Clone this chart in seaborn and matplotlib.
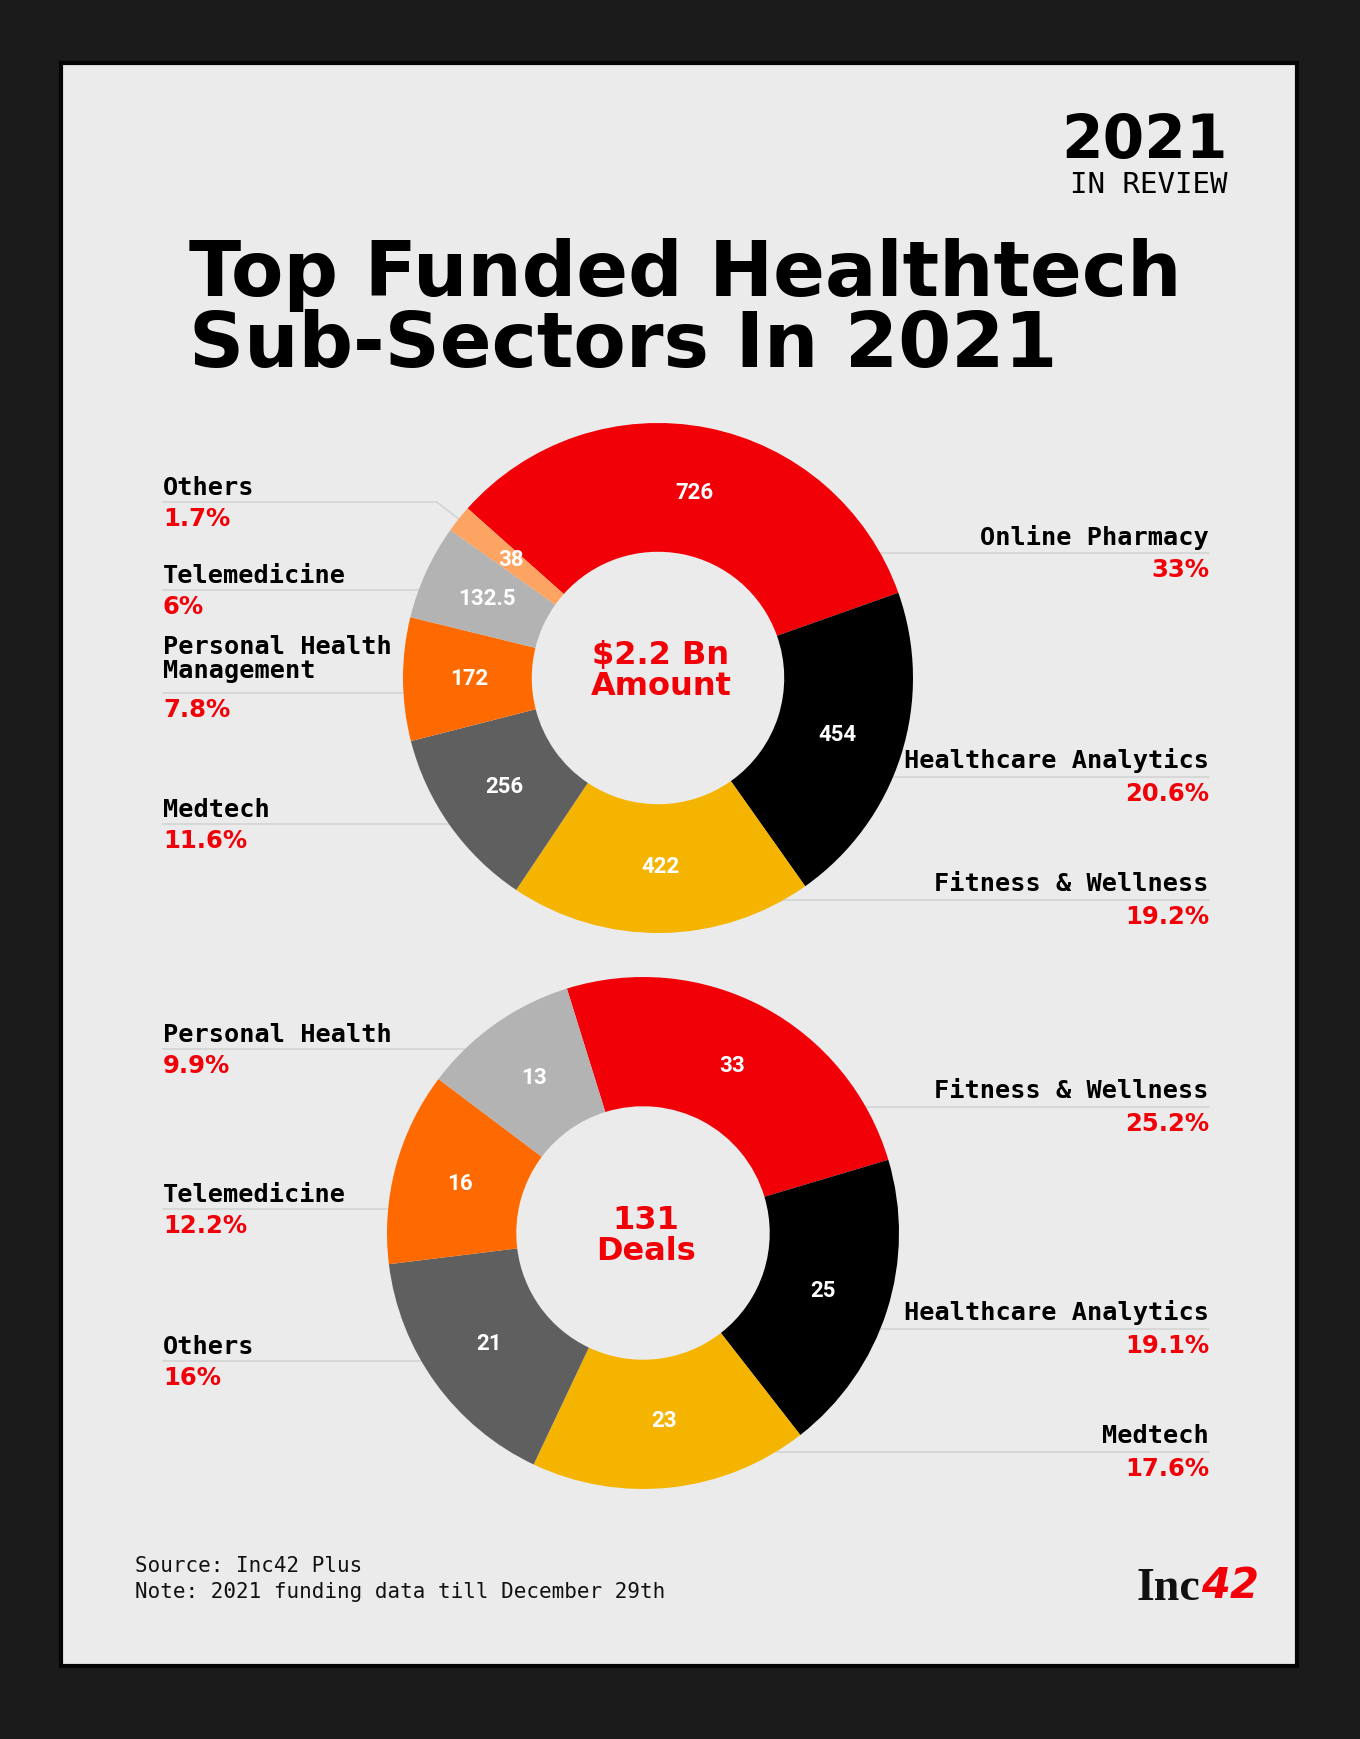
import numpy as np
import pandas as pd
import matplotlib
matplotlib.use("Agg")
import matplotlib.pyplot as plt
import seaborn as sns
from matplotlib.patches import Rectangle

# ---------------- data ----------------
amount_categories = ["Online Pharmacy", "Healthcare Analytics", "Fitness & Wellness",
                     "Medtech", "Personal Health\nManagement", "Telemedicine", "Others"]
amount_values = [726, 454, 422, 256, 172, 132.5, 38]
amount_center = ["$2.2 Bn", "Amount"]

deal_categories = ["Fitness & Wellness", "Healthcare Analytics", "Medtech",
                   "Others", "Telemedicine", "Personal Health"]
deal_values = [33, 25, 23, 21, 16, 13]
deal_center = ["131", "Deals"]

title_lines = ["Top Funded Healthtech", "Sub-Sectors In 2021"]
badge_year = "2021"
badge_text = "IN REVIEW"
footer_lines = ["Source: Inc42 Plus", "Note: 2021 funding data till December 29th"]

# ---------------- style ----------------
sns.set_theme(style="white")
palette = sns.color_palette(["#f20007", "#000000", "#f4b400", "#5f5f5f",
                             "#ff6a00", "#b3b3b3", "#fda462"])
RED = "#f20007"
CARD = "#ebebeb"
LINE = "#d3d3d3"
MONO = "DejaVu Sans Mono"
WIDE = "DejaVu Sans"

W, H = 1360, 1739
fig = plt.figure(figsize=(W / 100, H / 100), dpi=100)
fig.patch.set_facecolor("#1b1b1b")

bg = fig.add_axes([0, 0, 1, 1], zorder=0)
bg.set_xlim(0, W)
bg.set_ylim(H, 0)
bg.axis("off")
bg.add_patch(Rectangle((61, 63), 1236, 1603, facecolor=CARD, edgecolor="#050505", lw=3))

# header
bg.text(1228, 158, badge_year, ha="right", va="baseline", fontsize=43,
        fontweight="bold", family=WIDE, color="black")
bg.text(1228, 193, badge_text, ha="right", va="baseline", fontsize=21,
        family=MONO, color="black")
bg.text(189, 296, title_lines[0], ha="left", va="baseline", fontsize=55,
        fontweight="bold", family=WIDE, color="black")
bg.text(189, 367, title_lines[1], ha="left", va="baseline", fontsize=55,
        fontweight="bold", family=WIDE, color="black")

# footer
bg.text(135, 1572, footer_lines[0], ha="left", va="baseline", fontsize=15,
        family=MONO, color="#111111")
bg.text(135, 1598, footer_lines[1], ha="left", va="baseline", fontsize=15,
        family=MONO, color="#111111")
bg.text(1200, 1600, "Inc", ha="right", va="baseline", fontsize=33,
        fontweight="bold", family="Liberation Serif", color="#111111")
bg.text(1201, 1598, "42", ha="left", va="baseline", fontsize=30,
        fontweight="bold", style="italic", family=WIDE, color=RED)


def fmt_pct(v, total):
    s = f"{100 * v / total:.1f}".rstrip("0").rstrip(".")
    return s + "%"


def donut(cx, cy, R, values, cats, startangle, center_txt, center_ys, layout):
    ax = fig.add_axes([(cx - R) / W, 1 - (cy + R) / H, 2 * R / W, 2 * R / H], zorder=1)
    wedges, _ = ax.pie(values, colors=palette[:len(values)], startangle=startangle,
                       counterclock=False, radius=1,
                       wedgeprops=dict(width=0.505, linewidth=0))
    ax.set_xlim(-1, 1)
    ax.set_ylim(-1, 1)
    ax.axis("off")
    total = sum(values)
    for w, v in zip(wedges, values):
        th = np.deg2rad((w.theta1 + w.theta2) / 2)
        ax.text(0.74 * np.cos(th), 0.74 * np.sin(th), f"{v:g}", ha="center",
                va="center", color="white", fontsize=16, fontweight="bold",
                family="Roboto")
    # center text
    for t, y in zip(center_txt, center_ys):
        bg.text(cx + 3, y, t, ha="center", va="baseline", fontsize=23,
                fontweight="bold", family=WIDE, color=RED)
    # labels & leader lines
    for w, v, cat in zip(wedges, values, cats):
        side, ly, name_off, elbow = layout[cat]
        dy = ly - cy
        if side == "L":
            x_edge = cx - np.sqrt(max(R ** 2 - dy ** 2, 0))
            if elbow:
                th = np.deg2rad((w.theta1 + w.theta2) / 2)
                px, py = cx + R * np.cos(th), cy - R * np.sin(th)
                ex = px - (py - ly) * 1.3
                bg.plot([163, ex, px], [ly, ly, py], color=LINE, lw=1.2, zorder=1)
            else:
                bg.plot([163, x_edge], [ly, ly], color=LINE, lw=1.2, zorder=1)
            bg.text(163, ly - name_off, cat, ha="left", va="baseline", fontsize=18.2,
                    fontweight="bold", family=MONO, color="black", linespacing=1.0)
            bg.text(163, ly + 24, fmt_pct(v, total), ha="left", va="baseline",
                    fontsize=17.5, fontweight="bold", family=WIDE, color=RED)
        else:
            x_edge = cx + np.sqrt(max(R ** 2 - dy ** 2, 0))
            bg.plot([x_edge, 1209], [ly, ly], color=LINE, lw=1.2, zorder=1)
            bg.text(1209, ly - name_off, cat, ha="right", va="baseline", fontsize=18.2,
                    fontweight="bold", family=MONO, color="black")
            bg.text(1209, ly + 24, fmt_pct(v, total), ha="right", va="baseline",
                    fontsize=17.5, fontweight="bold", family=WIDE, color=RED)


amount_layout = {
    "Online Pharmacy": ("R", 553, 8, False),
    "Healthcare Analytics": ("R", 777, 9, False),
    "Fitness & Wellness": ("R", 900, 9, False),
    "Medtech": ("L", 824, 7, False),
    "Personal Health\nManagement": ("L", 693, 15, False),
    "Telemedicine": ("L", 590, 7, False),
    "Others": ("L", 502, 7, True),
}
deal_layout = {
    "Fitness & Wellness": ("R", 1107, 9, False),
    "Healthcare Analytics": ("R", 1329, 9, False),
    "Medtech": ("R", 1452, 9, False),
    "Others": ("L", 1361, 7, False),
    "Telemedicine": ("L", 1209, 7, False),
    "Personal Health": ("L", 1049, 7, False),
}

donut(658, 678, 255, amount_values, amount_categories, 138.3, amount_center,
      [664, 695], amount_layout)
donut(643, 1233, 256, deal_values, deal_categories, 107.3, deal_center,
      [1229, 1260], deal_layout)

fig.savefig("out.png", dpi=100, facecolor=fig.get_facecolor())
